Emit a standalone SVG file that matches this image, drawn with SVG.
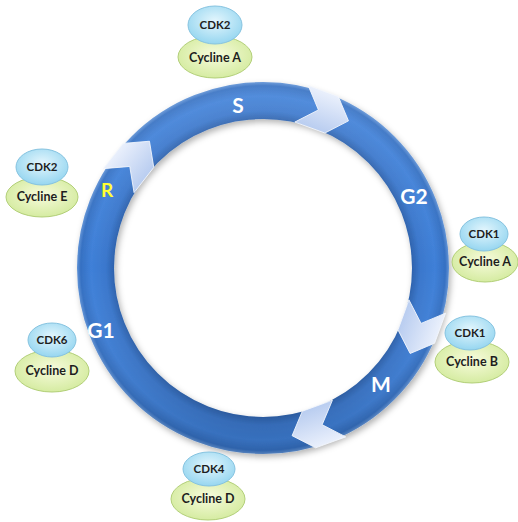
<svg xmlns="http://www.w3.org/2000/svg" width="518" height="522" viewBox="0 0 518 522">
<defs>
  <radialGradient id="ringGrad" gradientUnits="userSpaceOnUse" cx="263" cy="268" r="187">
    <stop offset="0.79" stop-color="#2b5fa9"/>
    <stop offset="0.84" stop-color="#3a77cc"/>
    <stop offset="0.92" stop-color="#3f80d8"/>
    <stop offset="0.975" stop-color="#3570c2"/>
    <stop offset="1" stop-color="#6d9ddc"/>
  </radialGradient>
  <linearGradient id="shade" x1="0" y1="0" x2="0" y2="1">
    <stop offset="0" stop-color="#ffffff" stop-opacity="0.10"/>
    <stop offset="0.5" stop-color="#ffffff" stop-opacity="0"/>
    <stop offset="1" stop-color="#000000" stop-opacity="0.12"/>
  </linearGradient>
  <linearGradient id="chevGrad" x1="0" y1="0" x2="1" y2="0">
    <stop offset="0" stop-color="#b9cdf0"/>
    <stop offset="1" stop-color="#eaf0fc"/>
  </linearGradient>
  <radialGradient id="cdkGrad" cx="0.5" cy="0.4" r="0.6">
    <stop offset="0" stop-color="#e4f6fd"/>
    <stop offset="1" stop-color="#96d6f0"/>
  </radialGradient>
  <radialGradient id="cycGrad" cx="0.5" cy="0.45" r="0.6">
    <stop offset="0" stop-color="#f7fbdc"/>
    <stop offset="1" stop-color="#d2ea9c"/>
  </radialGradient>
  <filter id="shadow" x="-10%" y="-10%" width="120%" height="120%">
    <feDropShadow dx="2" dy="3" stdDeviation="3" flood-color="#000" flood-opacity="0.3"/>
  </filter>
  <polygon id="chev" points="187,-20 187,12 167.5,30 148,12 148,-20 167.5,-2"/>
</defs>
<style>
  .cdk { fill: url(#cdkGrad); stroke: #86c3e0; stroke-width: 1; }
  .cyc { fill: url(#cycGrad); stroke: #b2cf78; stroke-width: 1; }
  .nt { font-family: Lato, "Liberation Sans", sans-serif; font-weight: bold; fill: #1e1e1e; text-anchor: middle; }
  .k { font-size: 11.5px; }
  .c { font-size: 12.5px; }
  .phase { font-family: Lato, "Liberation Sans", sans-serif; font-weight: bold; fill: #ffffff; text-anchor: middle; font-size: 21px; }
  .chev { fill: url(#chevGrad); stroke: #f4f7fd; stroke-width: 0.8; }
</style>

<g id="cycle">
  <circle cx="263" cy="268" r="167.5" fill="none" stroke="url(#ringGrad)" stroke-width="37" filter="url(#shadow)"/>
  <circle cx="263" cy="268" r="167.5" fill="none" stroke="url(#shade)" stroke-width="37"/>
</g>

<g id="connectors">
  <use href="#chev" class="chev" transform="translate(263,268) rotate(-70)"/>
  <use href="#chev" class="chev" transform="translate(263,268) rotate(20)"/>
  <use href="#chev" class="chev" transform="translate(263,268) rotate(70)"/>
  <use href="#chev" class="chev" transform="translate(263,268) rotate(-142)"/>
</g>

<g id="labels">
  <text class="phase" x="238" y="113">S</text>
  <text class="phase" x="414" y="204">G2</text>
  <text class="phase" x="381" y="392">M</text>
  <text class="phase" x="101" y="338">G1</text>
  <text class="phase" x="107" y="197" style="fill:#ffff33;font-size:19px">R</text>
</g>

<g id="cdk2-cyclineA">
  <ellipse class="cyc" cx="215" cy="57" rx="37" ry="21"/>
  <ellipse class="cdk" cx="215" cy="25" rx="27" ry="19"/>
  <text class="nt k" x="215" y="29">CDK2</text>
  <text class="nt c" x="215" y="62">Cycline A</text>
</g>

<g id="cdk2-cyclineE">
  <ellipse class="cyc" cx="42" cy="197" rx="36" ry="20"/>
  <ellipse class="cdk" cx="42" cy="167" rx="26" ry="18"/>
  <text class="nt k" x="42" y="171">CDK2</text>
  <text class="nt c" x="42" y="201">Cycline E</text>
</g>

<g id="cdk1-cyclineA">
  <ellipse class="cyc" cx="485" cy="262" rx="33" ry="20"/>
  <ellipse class="cdk" cx="484" cy="234" rx="24" ry="17"/>
  <text class="nt k" x="484" y="238">CDK1</text>
  <text class="nt c" x="485" y="266">Cycline A</text>
</g>

<g id="cdk1-cyclineB">
  <ellipse class="cyc" cx="472" cy="362" rx="37" ry="21"/>
  <ellipse class="cdk" cx="470" cy="333" rx="25" ry="17"/>
  <text class="nt k" x="470" y="337">CDK1</text>
  <text class="nt c" x="472" y="366">Cycline B</text>
</g>

<g id="cdk6-cyclineD">
  <ellipse class="cyc" cx="52" cy="371" rx="37" ry="21"/>
  <ellipse class="cdk" cx="52" cy="340" rx="24" ry="17"/>
  <text class="nt k" x="52" y="344">CDK6</text>
  <text class="nt c" x="52" y="375">Cycline D</text>
</g>

<g id="cdk4-cyclineD">
  <ellipse class="cyc" cx="208" cy="499" rx="37" ry="21"/>
  <ellipse class="cdk" cx="209" cy="469" rx="26" ry="17"/>
  <text class="nt k" x="209" y="473">CDK4</text>
  <text class="nt c" x="208" y="503">Cycline D</text>
</g>
</svg>
